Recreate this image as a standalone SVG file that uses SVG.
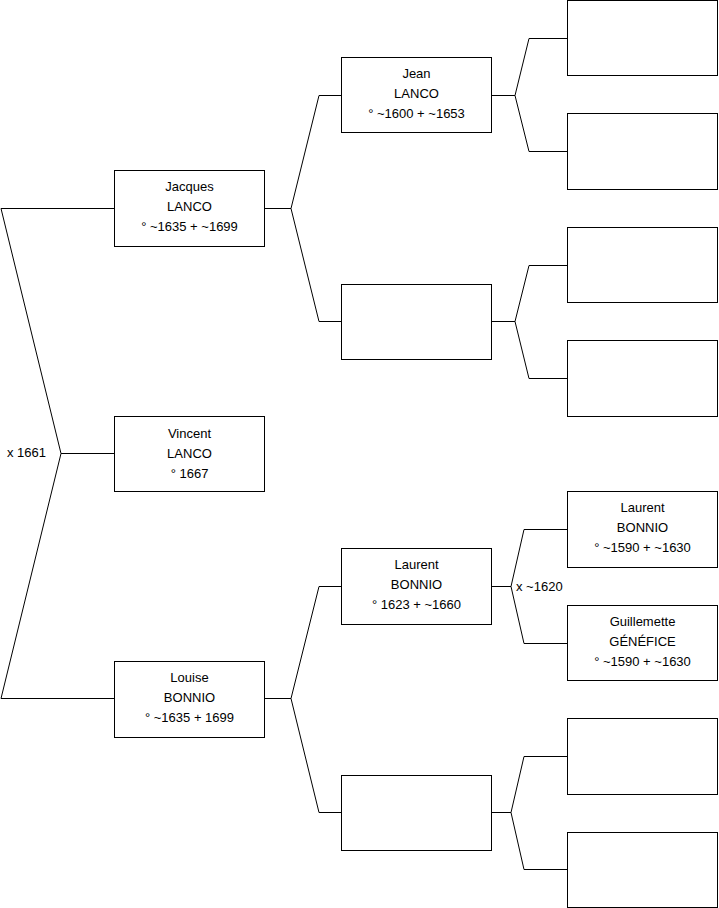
<svg xmlns="http://www.w3.org/2000/svg" width="719" height="908" viewBox="0 0 719 908">
<style>
.b{fill:#fff;stroke:#000;stroke-width:1}
.c{fill:none;stroke:#000;stroke-width:1}
text{font-family:"Liberation Sans",Arial,sans-serif;font-size:13px;fill:#000}
.m{text-anchor:middle}
</style>
<rect width="719" height="908" fill="#fff"/>
<g id="connectors">
<polyline class="c" points="114,208.5 1,208.5 61,453.5 1,698.5 114,698.5"/>
<polyline class="c" points="61,453.5 114,453.5"/>
<polyline class="c" points="341,95.5 319,95.5 291,208.5 319,321.5 341,321.5"/>
<polyline class="c" points="265,208.5 291,208.5"/>
<polyline class="c" points="341,586.5 319,586.5 291,698.5 319,812.5 341,812.5"/>
<polyline class="c" points="265,698.5 291,698.5"/>
<polyline class="c" points="567,38.5 529,38.5 515,95.5 529,151.5 567,151.5"/>
<polyline class="c" points="491,95.5 515,95.5"/>
<polyline class="c" points="567,265.5 529,265.5 515,321.5 529,378.5 567,378.5"/>
<polyline class="c" points="491,321.5 515,321.5"/>
<polyline class="c" points="567,529.5 524,529.5 511,586.5 524,643.5 567,643.5"/>
<polyline class="c" points="491,586.5 511,586.5"/>
<polyline class="c" points="567,756.5 524,756.5 511,812.5 524,869.5 567,869.5"/>
<polyline class="c" points="491,812.5 511,812.5"/>
<text x="7" y="457">x 1661</text>
<text x="516" y="591">x ~1620</text>
</g>
<g id="jacques"><rect class="b" x="114.5" y="170.5" width="150" height="76"/>
<text class="m" x="189.5" y="191">Jacques</text><text class="m" x="189.5" y="211">LANCO</text><text class="m" x="189.5" y="231">° ~1635 + ~1699</text></g>
<g id="vincent"><rect class="b" x="114.5" y="416.5" width="150" height="75"/>
<text class="m" x="189.5" y="438">Vincent</text><text class="m" x="189.5" y="458">LANCO</text><text class="m" x="189.5" y="478">° 1667</text></g>
<g id="louise"><rect class="b" x="114.5" y="661.5" width="150" height="76"/>
<text class="m" x="189.5" y="682">Louise</text><text class="m" x="189.5" y="702">BONNIO</text><text class="m" x="189.5" y="722">° ~1635 + 1699</text></g>
<g id="jean"><rect class="b" x="341.5" y="57.5" width="150" height="75"/>
<text class="m" x="416.5" y="78">Jean</text><text class="m" x="416.5" y="98">LANCO</text><text class="m" x="416.5" y="118">° ~1600 + ~1653</text></g>
<g id="empty1"><rect class="b" x="341.5" y="284.5" width="150" height="75"/></g>
<g id="laurent1"><rect class="b" x="341.5" y="548.5" width="150" height="76"/>
<text class="m" x="416.5" y="569">Laurent</text><text class="m" x="416.5" y="589">BONNIO</text><text class="m" x="416.5" y="609">° 1623 + ~1660</text></g>
<g id="empty2"><rect class="b" x="341.5" y="775.5" width="150" height="75"/></g>
<g id="r1"><rect class="b" x="567.5" y="0.5" width="150" height="75"/></g>
<g id="r2"><rect class="b" x="567.5" y="113.5" width="150" height="76"/></g>
<g id="r3"><rect class="b" x="567.5" y="227.5" width="150" height="75"/></g>
<g id="r4"><rect class="b" x="567.5" y="340.5" width="150" height="76"/></g>
<g id="laurent2"><rect class="b" x="567.5" y="491.5" width="150" height="76"/>
<text class="m" x="642.5" y="512">Laurent</text><text class="m" x="642.5" y="532">BONNIO</text><text class="m" x="642.5" y="552">° ~1590 + ~1630</text></g>
<g id="guillemette"><rect class="b" x="567.5" y="605.5" width="150" height="75"/>
<text class="m" x="642.5" y="626">Guillemette</text><text class="m" x="642.5" y="646">GÉNÉFICE</text><text class="m" x="642.5" y="666">° ~1590 + ~1630</text></g>
<g id="r7"><rect class="b" x="567.5" y="718.5" width="150" height="76"/></g>
<g id="r8"><rect class="b" x="567.5" y="832.5" width="150" height="75"/></g>
</svg>
